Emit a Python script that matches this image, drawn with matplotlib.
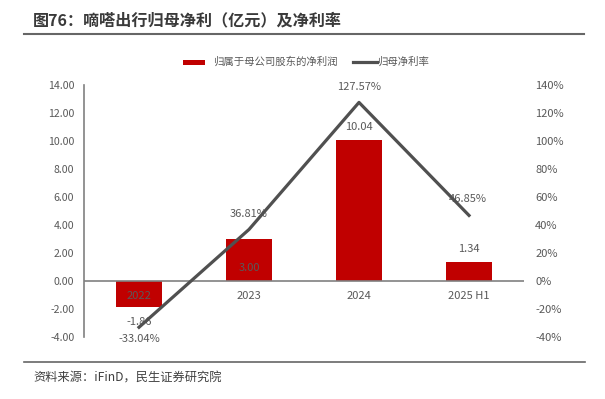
import matplotlib
matplotlib.use("Agg")
import matplotlib.pyplot as plt
from matplotlib.patches import Rectangle
from matplotlib.lines import Line2D
import numpy as np

plt.rcParams['font.family'] = ['Noto Sans CJK SC', 'DejaVu Sans']

categories = ["2022", "2023", "2024", "2025 H1"]
net_profit = [-1.86, 3.00, 10.04, 1.34]
margin = [-33.04, 36.81, 127.57, 46.85]
left_ticks = [-4, -2, 0, 2, 4, 6, 8, 10, 12, 14]
right_ticks = [-40, -20, 0, 20, 40, 60, 80, 100, 120, 140]

gray = "#595959"
red = "#C00000"
W, H = 605, 399

def fx(px):
    return px / W

def fy(py):
    return 1 - py / H

fig = plt.figure(figsize=(6.05, 3.99), dpi=100)
ax = fig.add_axes([fx(84), fy(337), 440 / W, 252 / H])
x = np.arange(len(categories))
bars = ax.bar(x, net_profit, width=0.41, color=red, zorder=2)
ax.set_xlim(-0.5, 3.5)
ax.set_ylim(-4, 14)
ax.set_yticks(left_ticks)
ax.set_yticklabels([f"{v:.2f}" for v in left_ticks], fontsize=7.6, color=gray)
ax.axhline(0, color="#808080", lw=1.2, zorder=3)
for s in ["top", "right", "bottom"]:
    ax.spines[s].set_visible(False)
ax.spines["left"].set_color("#808080")
ax.spines["left"].set_linewidth(1.2)
ax.tick_params(axis="y", length=0, pad=7)
ax.tick_params(axis="x", length=0)
ax.set_xticks([])
for xi, c in zip(x, categories):
    ax.text(xi, -1.07, c, ha="center", va="center", fontsize=8, color=gray, zorder=4)

# bar labels
ax.text(0, -2.93, "-1.86", ha="center", va="center", fontsize=8, color=gray, zorder=1.5)
ax.text(1, 0.93, "3.00", ha="center", va="center", fontsize=8, color=gray, zorder=4)
ax.text(2, 11.0, "10.04", ha="center", va="center", fontsize=8, color=gray)
ax.text(3, 2.29, "1.34", ha="center", va="center", fontsize=8, color=gray)

ax2 = ax.twinx()
ax2.set_ylim(-40, 140)
ax2.set_yticks(right_ticks)
ax2.set_yticklabels([f"{v}%" for v in right_ticks], fontsize=8, color=gray)
ax2.tick_params(axis="y", length=0, pad=8)
for s in ["top", "right", "bottom", "left"]:
    ax2.spines[s].set_visible(False)
ax2.plot(x, margin, color="#505050", lw=2.3, zorder=5)
ax2.text(0, margin[0] - 8.5, "-33.04%", ha="center", va="center", fontsize=8, color=gray)
ax2.text(1, margin[1] + 11.4, "36.81%", ha="center", va="center", fontsize=8, color=gray)
ax2.text(2, margin[2] + 10.7, "127.57%", ha="center", va="center", fontsize=8, color=gray)
ax2.text(2.99, margin[3] + 11.4, "46.85%", ha="center", va="center", fontsize=8, color=gray, zorder=4)

# legend (manual)
fig.add_artist(Rectangle((fx(183), fy(64.5)), 22 / W, 5 / H, transform=fig.transFigure,
                         color=red, lw=0))
fig.text(fx(213), fy(62), "归属于母公司股东的净利润", fontsize=7.5, color=gray,
         va="center", ha="left")
fig.add_artist(Line2D([fx(353), fx(377)], [fy(62), fy(62)], color="#505050", lw=2.3))
fig.text(fx(377), fy(62), "归母净利率", fontsize=7.5, color=gray, va="center", ha="left")

# title and rules
fig.text(fx(33), fy(20), "图76：嘀嗒出行归母净利（亿元）及净利率", fontsize=11.6,
         fontweight="bold", color="#3a3a3a", va="center", ha="left")
fig.add_artist(Line2D([fx(24), fx(584)], [fy(34), fy(34)], color="#666666", lw=1.5))
fig.add_artist(Line2D([fx(24), fx(585)], [fy(362), fy(362)], color="#666666", lw=1.2))
fig.text(fx(33), fy(378), "资料来源：iFinD，民生证券研究院", fontsize=8.8, color="#404040",
         va="center", ha="left")

fig.savefig("out.png", dpi=100)
